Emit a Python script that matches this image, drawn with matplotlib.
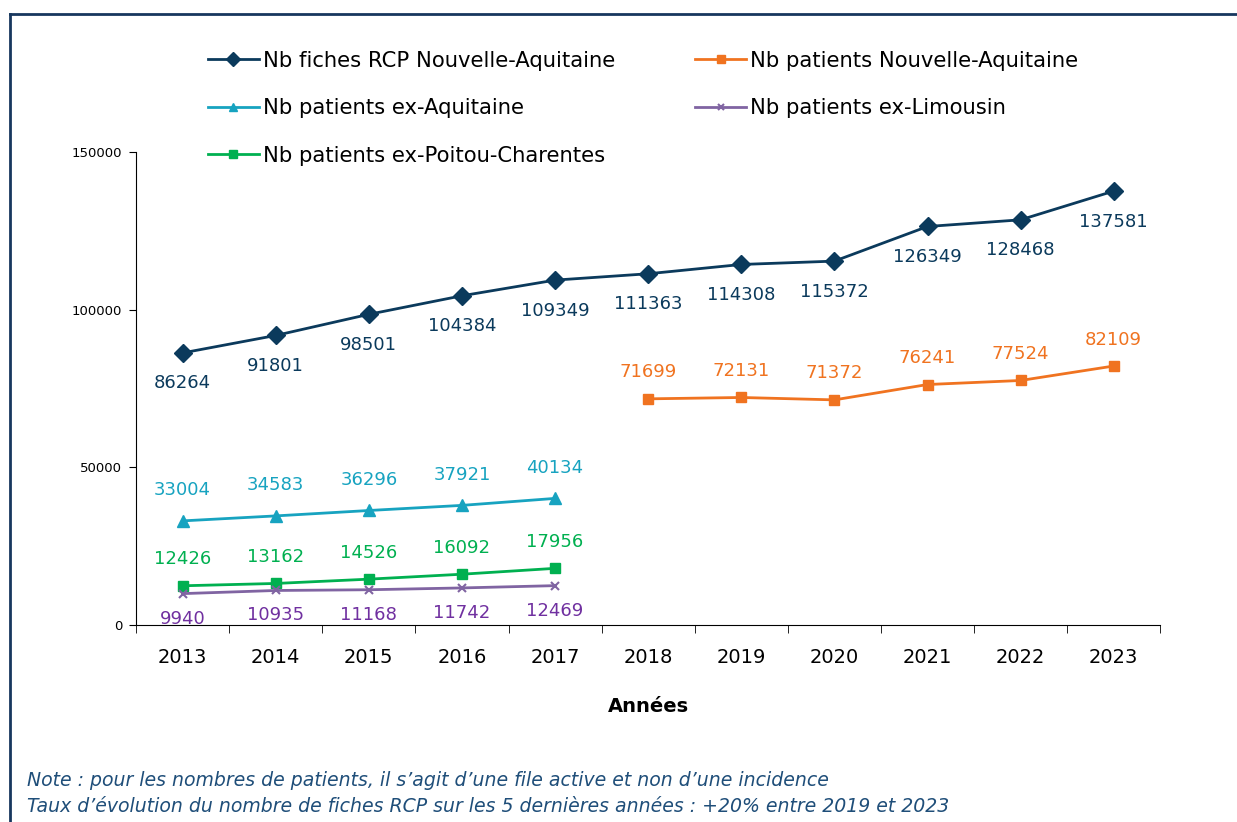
import matplotlib.pyplot as plt
from matplotlib.lines import Line2D

YEARS = ['2013', '2014', '2015', '2016', '2017', '2018', '2019', '2020', '2021', '2022', '2023']
FICHES_NA = [86264, 91801, 98501, 104384, 109349, 111363, 114308, 115372, 126349, 128468, 137581]
PATIENTS_NA = [71699, 72131, 71372, 76241, 77524, 82109]          # 2018-2023
PATIENTS_AQUITAINE = [33004, 34583, 36296, 37921, 40134]           # 2013-2017
PATIENTS_LIMOUSIN = [9940, 10935, 11168, 11742, 12469]             # 2013-2017
PATIENTS_POITOU = [12426, 13162, 14526, 16092, 17956]              # 2013-2017
Y_TICKS = [0, 50000, 100000, 150000]

NOTES = [
    'Note : pour les nombres de patients, il s\u2019agit d\u2019une file active et non d\u2019une incidence',
    'Taux d\u2019\u00e9volution du nombre de fiches RCP sur les 5 derni\u00e8res ann\u00e9es : +20% entre 2019 et 2023',
]

NAVY = '#0b3a5c'
ORANGE = '#f07320'
CYAN = '#17a3c0'
PURPLE_LINE = '#8064a2'
PURPLE_TEXT = '#7030a0'
GREEN = '#00b050'
FRAME = '#17375e'

plt.rcParams['font.family'] = ['DejaVu Sans']

fig = plt.figure(figsize=(12.37, 8.22), dpi=100)
ax = fig.add_axes([0.110, 0.2397, 0.828, 0.5755])

x_all = list(range(len(YEARS)))
x_new = x_all[5:]
x_old = x_all[:5]

# label, x, y, line colour, label colour, marker, size, label offset (pt)
series = [
    ('Nb fiches RCP Nouvelle-Aquitaine', x_all, FICHES_NA, NAVY, NAVY, 'D', 9.5, -22),
    ('Nb patients ex-Aquitaine', x_old, PATIENTS_AQUITAINE, CYAN, CYAN, '^', 9, 22),
    ('Nb patients ex-Poitou-Charentes', x_old, PATIENTS_POITOU, GREEN, GREEN, 's', 7.5, 19),
    ('Nb patients Nouvelle-Aquitaine', x_new, PATIENTS_NA, ORANGE, ORANGE, 's', 7.5, 19),
    ('Nb patients ex-Limousin', x_old, PATIENTS_LIMOUSIN, PURPLE_LINE, PURPLE_TEXT, 'x', 6, -18),
]

handles = []
for label, xs, ys, color, tcolor, marker, ms, off in series:
    mew = 1.5 if marker == 'x' else 1
    line, = ax.plot(xs, ys, color=color, lw=2, marker=marker, ms=ms,
                    mew=mew, label=label, clip_on=False, zorder=3)
    handles.append(line)
    for x, y in zip(xs, ys):
        ax.annotate(f'{y}', (x, y), xytext=(0, off), textcoords='offset points',
                    ha='center', va='center', color=tcolor, fontsize=13)

ax.set_xlim(-0.5, len(YEARS) - 0.5)
ax.set_ylim(0, 150000)
ax.set_yticks(Y_TICKS)
ax.set_yticklabels([str(v) for v in Y_TICKS], fontsize=9.5)
ax.set_xticks(x_all)
ax.set_xticklabels(YEARS, fontsize=14)
ax.set_xticks([i - 0.5 for i in range(len(YEARS) + 1)], minor=True)
ax.tick_params(axis='x', which='major', length=0, pad=16.5)
ax.tick_params(axis='x', which='minor', length=6, direction='out')
ax.tick_params(axis='y', length=5, direction='out', pad=5)
for side in ['top', 'right']:
    ax.spines[side].set_visible(False)
ax.set_xlabel('Ann\u00e9es', fontsize=14, fontweight='bold', labelpad=22)

ax.legend(handles=handles, ncol=2, frameon=False, fontsize=15.2,
          loc='lower left', bbox_to_anchor=(0.062, 0.953),
          handlelength=2.4, handletextpad=0.2, columnspacing=3.8,
          labelspacing=1.3, borderaxespad=0, markerscale=0.7)

fig.text(27 / 1237, 1 - 780 / 822, NOTES[0], fontsize=13.6, style='italic',
         color='#1f4e79', va='center', ha='left')
fig.text(27 / 1237, 1 - 806 / 822, NOTES[1], fontsize=13.6, style='italic',
         color='#1f4e79', va='center', ha='left')

# outer frame (top and left edges visible)
fig.add_artist(Line2D([10 / 1237, 10 / 1237], [0, 1 - 14 / 822],
                      transform=fig.transFigure, color=FRAME, lw=2))
fig.add_artist(Line2D([10 / 1237, 1], [1 - 14 / 822, 1 - 14 / 822],
                      transform=fig.transFigure, color=FRAME, lw=2))

fig.savefig('out.png', dpi=100)
